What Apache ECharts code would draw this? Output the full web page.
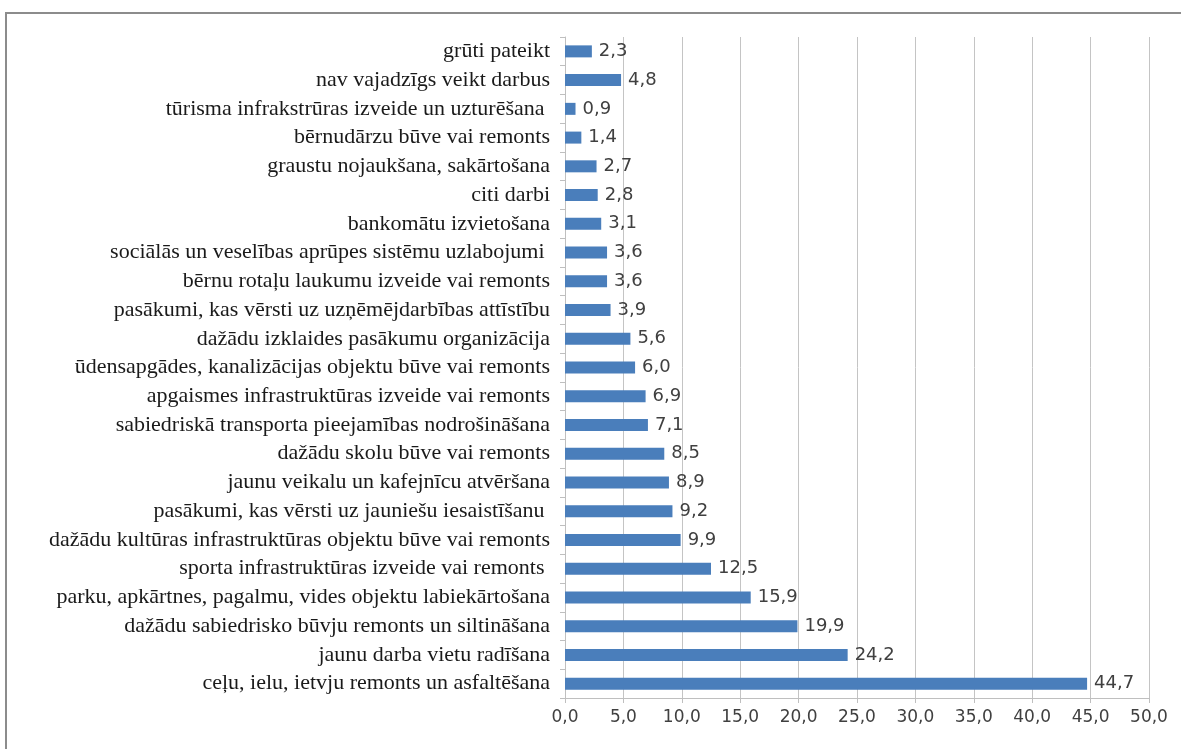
<!DOCTYPE html>
<html>
<head>
<meta charset="utf-8">
<script src="https://cdn.jsdelivr.net/npm/echarts@6/dist/echarts.min.js"></script>
<style>
    html, body { margin: 0; padding: 0; background: #fff; }
    #main { width: 1181px; height: 749px; }
</style>
</head>
<body>
<div id="main"></div>
<script type="text/javascript">
    // kategorijas no augšas uz leju
    var categories = [
        'grūti pateikt',
        'nav vajadzīgs veikt darbus',
        'tūrisma infrakstrūras izveide un uzturēšana ',
        'bērnudārzu būve vai remonts',
        'graustu nojaukšana, sakārtošana',
        'citi darbi',
        'bankomātu izvietošana',
        'sociālās un veselības aprūpes sistēmu uzlabojumi ',
        'bērnu rotaļu laukumu izveide vai remonts',
        'pasākumi, kas vērsti uz uzņēmējdarbības attīstību',
        'dažādu izklaides pasākumu organizācija',
        'ūdensapgādes, kanalizācijas objektu būve vai remonts',
        'apgaismes infrastruktūras izveide vai remonts',
        'sabiedriskā transporta pieejamības nodrošināšana',
        'dažādu skolu būve vai remonts',
        'jaunu veikalu un kafejnīcu atvēršana',
        'pasākumi, kas vērsti uz jauniešu iesaistīšanu ',
        'dažādu kultūras infrastruktūras objektu būve vai remonts',
        'sporta infrastruktūras izveide vai remonts ',
        'parku, apkārtnes, pagalmu, vides objektu labiekārtošana',
        'dažādu sabiedrisko būvju remonts un siltināšana',
        'jaunu darba vietu radīšana',
        'ceļu, ielu, ietvju remonts un asfaltēšana'
    ];
    var values = [2.3, 4.8, 0.9, 1.4, 2.7, 2.8, 3.1, 3.6, 3.6, 3.9, 5.6, 6.0,
                  6.9, 7.1, 8.5, 8.9, 9.2, 9.9, 12.5, 15.9, 19.9, 24.2, 44.7];
    var axisMin = 0, axisMax = 50, axisStep = 5;

    function comma(v) { return Number(v).toFixed(1).replace('.', ','); }

    var myChart = echarts.init(document.getElementById('main'));

    var option = {
        animation: false,
        backgroundColor: '#fff',
        graphic: [{
            type: 'rect',
            shape: { x: 6, y: 13, width: 1200, height: 800 },
            style: { fill: 'none', stroke: '#8c8c8c', lineWidth: 2 },
            silent: true
        }],
        grid: { left: 565, right: 32, top: 37, bottom: 51 },
        xAxis: {
            type: 'value',
            min: axisMin, max: axisMax, interval: axisStep,
            axisLine: { show: true, lineStyle: { color: '#bfbfbf' } },
            axisTick: { show: true, length: 5, lineStyle: { color: '#bfbfbf' } },
            axisLabel: {
                formatter: comma, color: '#404040', margin: 11,
                fontFamily: 'DejaVu Sans', fontSize: 17
            },
            splitLine: { show: true, lineStyle: { color: '#c4c4c4', width: 1 } }
        },
        yAxis: {
            type: 'category',
            data: categories,
            inverse: true,
            axisLine: { show: true, lineStyle: { color: '#bfbfbf' } },
            axisTick: { show: true, length: 5, lineStyle: { color: '#bfbfbf' } },
            axisLabel: {
                interval: 0,
                color: '#1a1a1a', margin: 15,
                fontFamily: 'Liberation Serif', fontSize: 22
            }
        },
        series: [{
            type: 'bar',
            data: values,
            barWidth: 12,
            itemStyle: { color: '#4a7ebb' },
            label: {
                show: true, position: 'right', distance: 7,
                formatter: function (p) { return comma(p.value); },
                color: '#404040', fontFamily: 'DejaVu Sans', fontSize: 18
            }
        }]
    };

    myChart.setOption(option);
</script>
</body>
</html>
